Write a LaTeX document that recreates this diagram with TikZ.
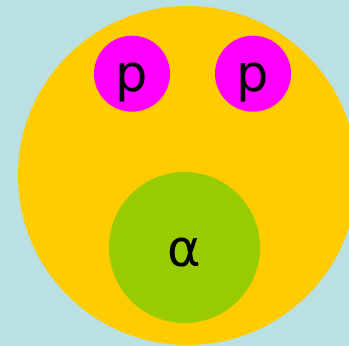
\documentclass[tikz,border=0pt]{standalone}
\usepackage{fontspec}
\setmainfont{DejaVu Sans}
\definecolor{bgblue}{HTML}{BAE0E3}
\definecolor{nucyellow}{HTML}{FFCC00}
\definecolor{protonpink}{HTML}{FF00FF}
\definecolor{alphagreen}{HTML}{99CC00}

\begin{document}
\begin{tikzpicture}[
    x=1pt, y=-1pt,
    disc/.style={circle, inner sep=0pt, draw=none},
    lbl/.style={anchor=base, font=\fontsize{51}{51}\selectfont, text=black}
]

% ---- Background ----
\fill[bgblue] (0,0) rectangle (349,346);
\useasboundingbox (0,0) rectangle (349,346);

% ---- Nucleus ----
\node[disc, fill=nucyellow, minimum size=339pt] (nucleus) at (187.5,175.5) {};

% ---- Protons ----
\node[disc, fill=protonpink, minimum size=76pt] (protonL) at (132,73.7) {};
\node[disc, fill=protonpink, minimum size=76pt] (protonR) at (253,73.7) {};
\node[lbl] (pL) at (132,91) {p};
\node[lbl] (pR) at (253,91) {p};

% ---- Alpha ----
\node[disc, fill=alphagreen, minimum size=151pt] (alpha) at (184.5,247.5) {};
\node[lbl] (aLbl) at (184.5,266) {α};

\end{tikzpicture}
\end{document}
